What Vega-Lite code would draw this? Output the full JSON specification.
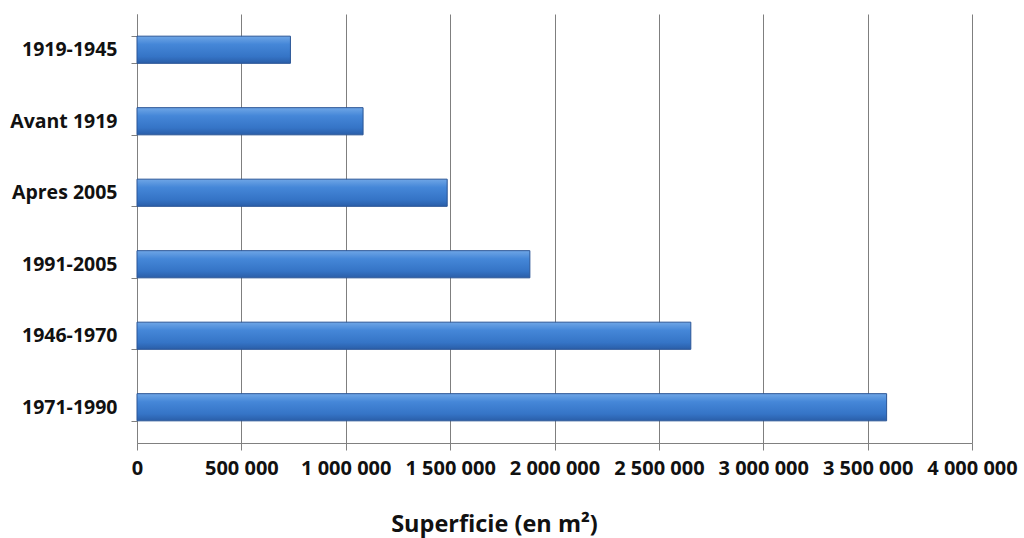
{
  "$schema": "https://vega.github.io/schema/vega-lite/v6.json",
  "width": 835,
  "height": 429,
  "autosize": {"type": "none"},
  "padding": {"left": 137, "top": 14, "right": 52, "bottom": 95},
  "background": "white",
  "data": {
    "values": [
      {"periode": "1919-1945", "superficie": 735000},
      {"periode": "Avant 1919", "superficie": 1083000},
      {"periode": "Apres 2005", "superficie": 1486000},
      {"periode": "1991-2005", "superficie": 1882000},
      {"periode": "1946-1970", "superficie": 2653000},
      {"periode": "1971-1990", "superficie": 3591000}
    ]
  },
  "mark": {
    "type": "bar",
    "stroke": "#2a5596",
    "strokeWidth": 1,
    "fill": {
      "gradient": "linear",
      "x1": 0, "y1": 0, "x2": 0, "y2": 1,
      "stops": [
        {"offset": 0, "color": "#6fa6e6"},
        {"offset": 0.3, "color": "#4587d8"},
        {"offset": 0.75, "color": "#3574c6"},
        {"offset": 1, "color": "#2a5ea8"}
      ]
    }
  },
  "encoding": {
    "y": {
      "field": "periode",
      "type": "nominal",
      "sort": {"field": "superficie", "order": "ascending"},
      "scale": {"paddingInner": 0.62, "paddingOuter": 0.31},
      "axis": {
        "title": null,
        "tickBand": "extent",
        "tickSize": 6,
        "tickColor": "#808080",
        "domainColor": "#808080",
        "labelFont": "Open Sans",
        "labelFontWeight": "bold",
        "labelFontSize": 19.5,
        "labelColor": "#111111",
        "labelPadding": 14,
        "grid": false
      }
    },
    "x": {
      "field": "superficie",
      "type": "quantitative",
      "scale": {"domain": [0, 4000000], "nice": false},
      "axis": {
        "title": "Superficie (en m²)",
        "values": [0, 500000, 1000000, 1500000, 2000000, 2500000, 3000000, 3500000, 4000000],
        "labelExpr": "replace(format(datum.value, ','), regexp(',', 'g'), ' ')",
        "grid": true,
        "gridColor": "#7f7f7f",
        "gridWidth": 1,
        "tickColor": "#808080",
        "tickSize": 7,
        "domainColor": "#808080",
        "labelFont": "Open Sans",
        "labelFontWeight": "bold",
        "labelFontSize": 20,
        "labelColor": "#111111",
        "labelPadding": 8,
        "labelFlush": false,
        "labelOverlap": false,
        "titleFont": "Open Sans",
        "titleFontWeight": "bold",
        "titleFontSize": 23.5,
        "titleColor": "#111111",
        "titleX": 357,
        "titleY": 81,
        "titleBaseline": "middle",
        "titleAnchor": "middle"
      }
    }
  },
  "config": {
    "view": {"stroke": null},
    "axis": {"domainWidth": 1, "tickWidth": 1}
  }
}
